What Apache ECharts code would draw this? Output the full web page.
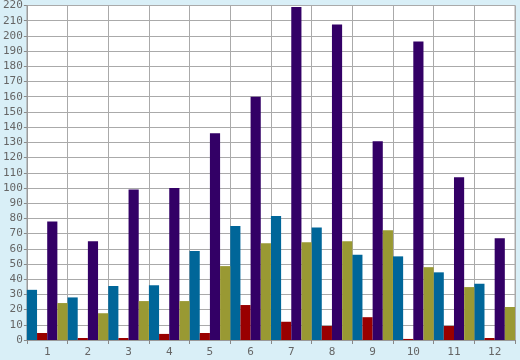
<!DOCTYPE html>
<html><head><meta charset="utf-8">
<script src="https://cdn.jsdelivr.net/npm/echarts@6/dist/echarts.min.js"></script>
<style>html,body{margin:0;padding:0;background:#d9eff7;}#c{width:520px;height:360px;}</style>
</head><body><div id="c"></div>
<script>
var categories = ['1','2','3','4','5','6','7','8','9','10','11','12'];
var seriesBlue   = [33, 28, 35.5, 36, 58.5, 75, 81.5, 74, 56, 55, 44.5, 37];
var seriesRed    = [4.6, 1.3, 1.3, 4, 4.6, 23, 12, 9.2, 15, 0.7, 9.2, 1.3];
var seriesPurple = [78, 65, 99, 100, 136, 160, 219, 207.5, 130.7, 196.3, 107, 67];
var seriesOlive  = [24.3, 17.6, 25.6, 25.6, 48.6, 63.7, 64.3, 65, 72.2, 47.9, 34.8, 21.7];
var yTicks = {min: 0, max: 220, interval: 10};

var font = '"DejaVu Sans Mono", monospace';
var chart = echarts.init(document.getElementById('c'), null, {renderer: 'canvas'});
function bar(name, data, color) {
  return {name: name, type: 'bar', data: data, itemStyle: {color: color},
    barGap: '0%', barCategoryGap: '0%', animation: false};
}
chart.setOption({
  backgroundColor: '#d9eff7',
  animation: false,
  grid: {left: 26, right: 5, top: 5, bottom: 20, show: true, backgroundColor: '#fff', borderColor: '#aaaaaa', borderWidth: 1},
  xAxis: {
    type: 'category', data: categories, boundaryGap: true,
    axisLine: {lineStyle: {color: '#999999'}},
    axisTick: {show: true, interval: 0, length: 4, lineStyle: {color: '#888888'}},
    splitLine: {show: true, interval: 0, lineStyle: {color: '#aaaaaa'}},
    axisLabel: {color: '#666666', fontFamily: font, fontSize: 11, margin: 7, interval: 0}
  },
  yAxis: {
    type: 'value', min: yTicks.min, max: yTicks.max, interval: yTicks.interval,
    axisLine: {show: true, lineStyle: {color: '#999999'}},
    axisTick: {show: true, length: 3, lineStyle: {color: '#888888'}},
    splitLine: {show: true, lineStyle: {color: '#aaaaaa'}},
    axisLabel: {color: '#666666', fontFamily: font, fontSize: 11, margin: 4}
  },
  series: [
    bar('A', seriesBlue, '#006699'),
    bar('B', seriesRed, '#990000'),
    bar('C', seriesPurple, '#330066'),
    bar('D', seriesOlive, '#999933')
  ]
});
</script></body></html>
